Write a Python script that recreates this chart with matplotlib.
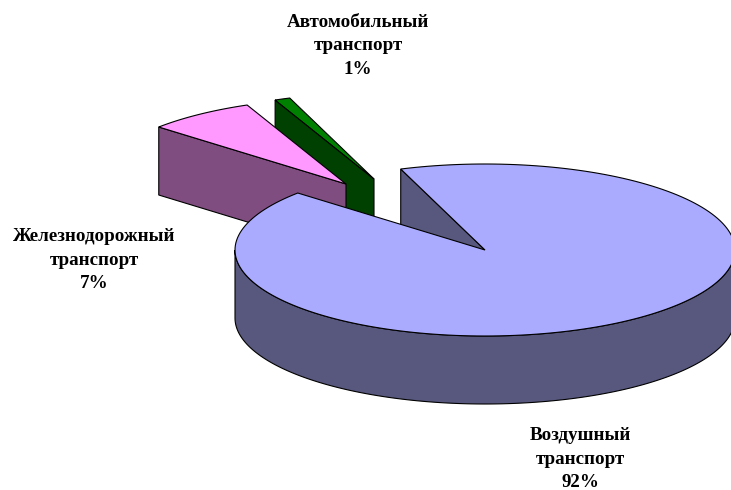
from matplotlib import pyplot as plt
from matplotlib.patches import Polygon
import numpy as np

names = ["Воздушный\nтранспорт", "Железнодорожный\nтранспорт", "Автомобильный\nтранспорт"]
values = [92, 7, 1]
top_colors = ["#AAAAFF", "#FF99FF", "#008000"]
side_colors = ["#58587F", "#7F4D7F", "#004000"]

# pie geometry in image pixels
cx, cy = 485, 250
rx, ry = 250, 86
depth = 68
start_angle = 109.7
offsets = [(0, 0), (-139, -66), (-111, -71)]
label_pos = [(580, 459), (94, 260), (358, 46)]


def arc(a0, a1, dx=0, dy=0):
    t = np.radians(np.linspace(a0, a1, 200))
    return np.column_stack([cx + dx + rx * np.cos(t), cy + dy - ry * np.sin(t)])


def draw(ax, pts, color):
    ax.add_patch(Polygon(pts, closed=True, facecolor=color, edgecolor="black", linewidth=0.8))


def cut_face(ax, angle, dx, dy, color):
    outer = arc(angle, angle, dx, dy)[0]
    apex = np.array([cx + dx, cy + dy])
    draw(ax, [outer, apex, apex + [0, depth], outer + [0, depth]], color)


fig, ax = plt.subplots(figsize=(7.31, 4.90), dpi=100)
fig.subplots_adjust(0, 0, 1, 1)
ax.set_xlim(0, 731)
ax.set_ylim(490, 0)
ax.axis("off")

sweeps = np.array(values) / sum(values) * 360
ends = start_angle - np.cumsum(sweeps)
starts = ends + sweeps

# auto slice goes first, rail slice sits in front of it
for i in [2, 1]:
    dx, dy = offsets[i]
    cut_face(ax, starts[i], dx, dy, side_colors[i])
    draw(ax, np.vstack([[cx + dx, cy + dy], arc(starts[i], ends[i], dx, dy)]), top_colors[i])

# main slice: inner wall, rim, then top
cut_face(ax, starts[0], 0, 0, side_colors[0])
rim_angles = arc(180, 360)
draw(ax, np.vstack([rim_angles, (rim_angles + [0, depth])[::-1]]), side_colors[0])
draw(ax, np.vstack([[cx, cy], arc(starts[0], ends[0])]), top_colors[0])

for name, value, (x, y) in zip(names, values, label_pos):
    ax.text(x, y, f"{name}\n{value}%", ha="center", va="center", family="Liberation Serif",
            fontweight="bold", fontsize=13.7, linespacing=1.5, color="black")

plt.savefig("out.png", dpi=100)
